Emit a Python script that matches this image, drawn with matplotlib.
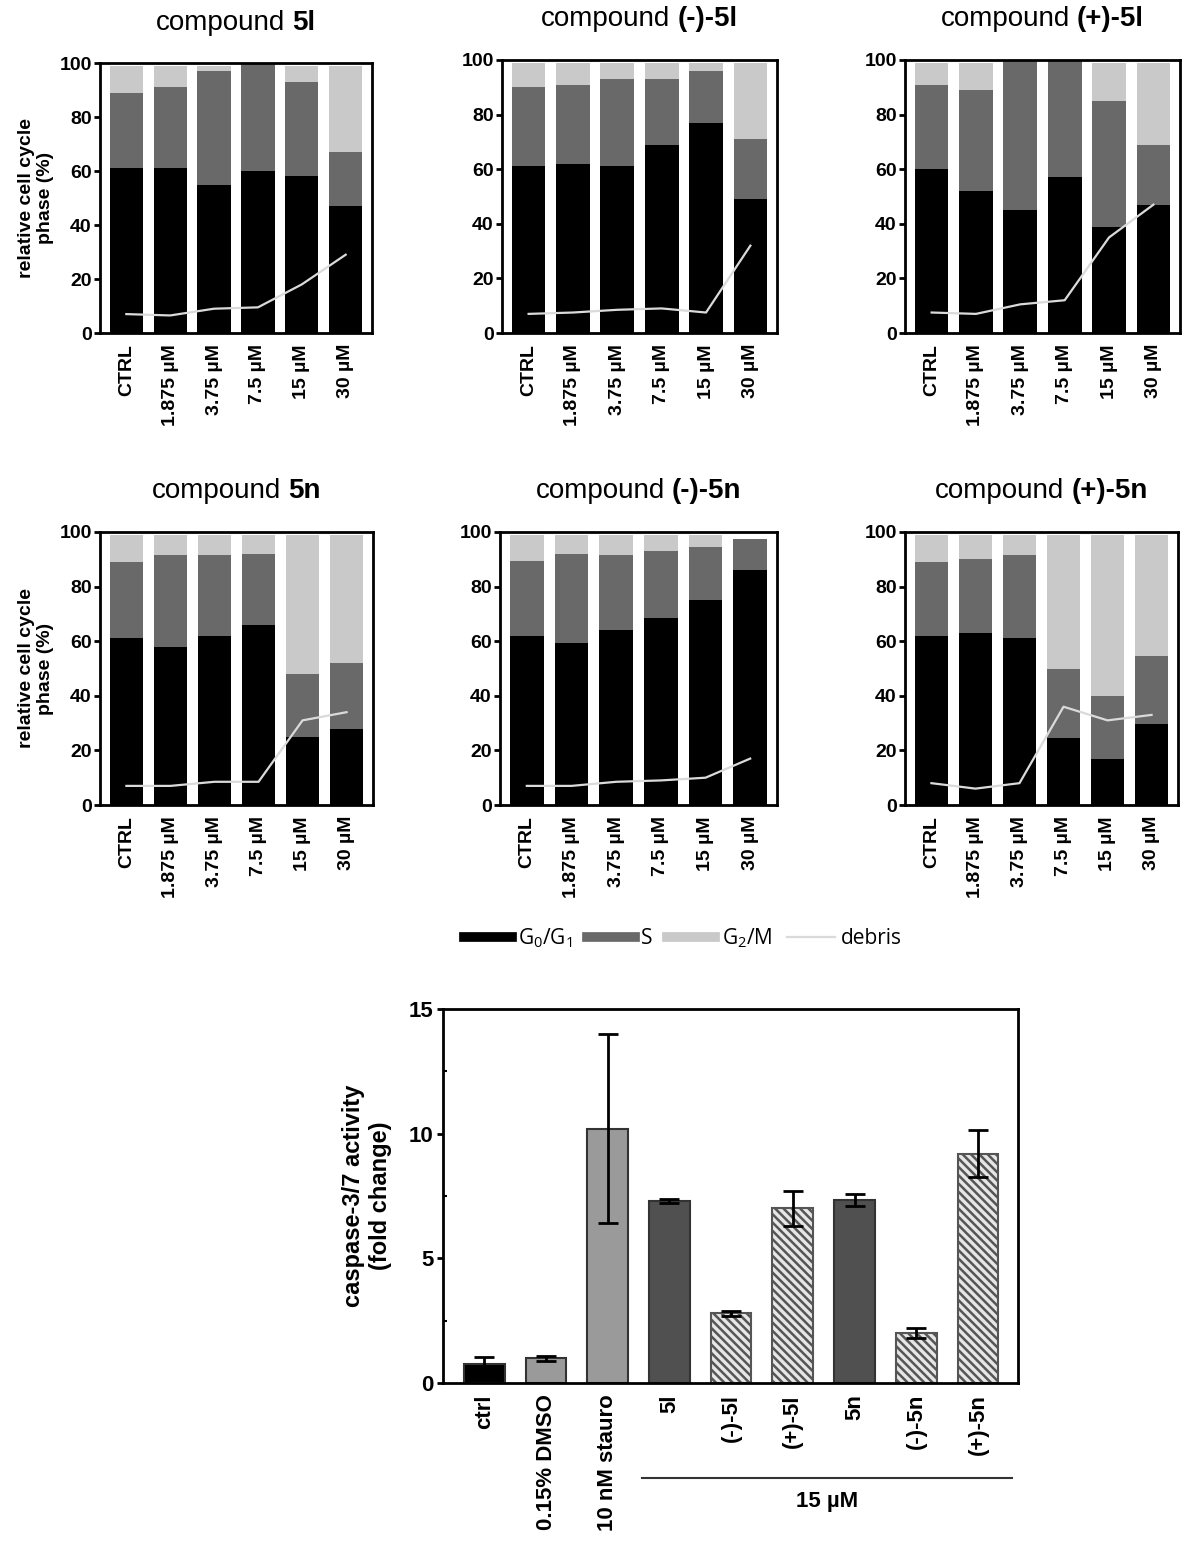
import matplotlib
matplotlib.use('Agg')
import matplotlib.pyplot as plt
import numpy as np
from matplotlib.lines import Line2D
from matplotlib.offsetbox import TextArea, HPacker, AnnotationBbox

plt.rcParams['font.family'] = ['Liberation Sans', 'DejaVu Sans']
plt.rcParams['mathtext.fontset'] = 'custom'
plt.rcParams['mathtext.rm'] = 'Open Sans'
plt.rcParams['hatch.linewidth'] = 1.8

doses = ['CTRL', '1.875 µM', '3.75 µM', '7.5 µM', '15 µM', '30 µM']

# cell cycle phases (%) per compound
g1_5l = [61, 61, 55, 60, 58, 47]
s_5l = [28, 30, 42, 40, 35, 20]
g2m_5l = [10, 8, 2, 0, 6, 32]
deb_5l = [7, 6.5, 9, 9.5, 18, 29]

g1_m5l = [61, 62, 61, 69, 77, 49]
s_m5l = [29, 29, 32, 24, 19, 22]
g2m_m5l = [9, 8, 6, 6, 3, 28]
deb_m5l = [7, 7.5, 8.5, 9, 7.5, 32]

g1_p5l = [60, 52, 45, 57, 39, 47]
s_p5l = [31, 37, 55, 43, 46, 22]
g2m_p5l = [8, 10, 0, 0, 14, 30]
deb_p5l = [7.5, 7, 10.5, 12, 35, 47]

g1_5n = [61, 58, 62, 66, 25, 28]
s_5n = [28, 33.5, 29.5, 26, 23, 24]
g2m_5n = [10, 7.5, 7.5, 7, 51, 47]
deb_5n = [7, 7, 8.5, 8.5, 31, 34]

g1_m5n = [62, 59.5, 64, 68.5, 75, 86]
s_m5n = [27.5, 32.5, 27.5, 24.5, 19.5, 11.5]
g2m_m5n = [9.5, 7, 7.5, 6, 4.5, 0]
deb_m5n = [7, 7, 8.5, 9, 10, 17]

g1_p5n = [62, 63, 61, 24.5, 17, 29.5]
s_p5n = [27, 27, 30.5, 25.5, 23, 25]
g2m_p5n = [10, 9, 7.5, 49, 59, 44.5]
deb_p5n = [8, 6, 8, 36, 31, 33]

panels = [
    ('5l', g1_5l, s_5l, g2m_5l, deb_5l),
    ('(-)-5l', g1_m5l, s_m5l, g2m_m5l, deb_m5l),
    ('(+)-5l', g1_p5l, s_p5l, g2m_p5l, deb_p5l),
    ('5n', g1_5n, s_5n, g2m_5n, deb_5n),
    ('(-)-5n', g1_m5n, s_m5n, g2m_m5n, deb_m5n),
    ('(+)-5n', g1_p5n, s_p5n, g2m_p5n, deb_p5n),
]

# caspase assay
casp_labels = ['ctrl', '0.15% DMSO', '10 nM stauro', '5l', '(-)-5l', '(+)-5l',
               '5n', '(-)-5n', '(+)-5n']
casp_mean = [0.75, 1.0, 10.2, 7.3, 2.8, 7.0, 7.35, 2.0, 9.2]
casp_err = [0.3, 0.1, 3.8, 0.08, 0.1, 0.7, 0.25, 0.2, 0.95]

C_G1, C_S, C_G2, C_DEB = '#000000', '#696969', '#c9c9c9', '#dadada'

W, H = 1186, 1542
fig = plt.figure(figsize=(W / 100, H / 100), dpi=100)

def px_axes(x0, x1, y0, y1):
    return fig.add_axes([x0 / W, 1 - y1 / H, (x1 - x0) / W, (y1 - y0) / H])

def title2(ax, label):
    t1 = TextArea('compound', textprops=dict(fontsize=20))
    t2 = TextArea(label, textprops=dict(fontsize=20, weight='bold'))
    box = HPacker(children=[t1, t2], align='baseline', pad=0, sep=5)
    ab = AnnotationBbox(box, (0.5, 1.15), xycoords='axes fraction',
                        frameon=False, box_alignment=(0.5, 0.5))
    ax.add_artist(ab)

boxes = [(100, 372, 63, 333), (502, 777, 60, 333), (905, 1180, 60, 333),
         (100, 373, 532, 805), (500, 777, 532, 805), (905, 1178, 532, 805)]

x = np.arange(len(doses))
for i, ((name, g1, s, g2, deb), b) in enumerate(zip(panels, boxes)):
    ax = px_axes(*b)
    g1 = np.array(g1); s = np.array(s); g2 = np.array(g2)
    ax.bar(x, g1, 0.76, color=C_G1)
    ax.bar(x, s, 0.76, bottom=g1, color=C_S)
    ax.bar(x, g2, 0.76, bottom=g1 + s, color=C_G2)
    ax.plot(x, deb, color=C_DEB, lw=1.6)
    ax.set_xlim(-0.6, 5.6)
    ax.set_ylim(0, 100)
    ax.set_yticks(range(0, 101, 20))
    ax.set_xticks(x)
    ax.set_xticklabels(doses, rotation=90, fontsize=14, weight='bold')
    for t in ax.get_yticklabels():
        t.set_fontsize(14)
        t.set_weight('bold')
    ax.tick_params(axis='x', length=0, pad=8)
    ax.tick_params(axis='y', length=4, width=2, pad=2)
    for sp in ax.spines.values():
        sp.set_linewidth(2)
    if i % 3 == 0:
        ax.set_ylabel('relative cell cycle\nphase (%)', fontsize=14,
                      weight='bold', linespacing=1.1)
    title2(ax, name)

handles = [Line2D([], [], color=C_G1, lw=7),
           Line2D([], [], color=C_S, lw=7),
           Line2D([], [], color=C_G2, lw=7),
           Line2D([], [], color=C_DEB, lw=1.6)]
fig.legend(handles, ['G$_0$/G$_1$', 'S', 'G$_2$/M', 'debris'],
           loc='center', bbox_to_anchor=(683 / W, 1 - 938 / H), ncol=4,
           frameon=False, handlelength=2.3, handletextpad=0.3,
           columnspacing=0.7, prop={'family': 'Open Sans', 'size': 15})

# caspase panel
ax = px_axes(443, 1018, 1009, 1383)
xc = np.arange(len(casp_labels))
colors = ['#000000', '#9a9a9a', '#9a9a9a', '#505050', '#e6e6e6', '#e6e6e6',
          '#505050', '#e6e6e6', '#e6e6e6']
hatches = [None, None, None, None, '\\\\\\\\', '\\\\\\\\', None,
           '\\\\\\\\', '\\\\\\\\']
for xi, m, c, h in zip(xc, casp_mean, colors, hatches):
    ax.bar(xi, m, 0.66, color=c, edgecolor='#555555' if h else '#333333',
           hatch=h, lw=1.5, zorder=2)
ax.errorbar(xc, casp_mean, yerr=casp_err, fmt='none', ecolor='black',
            elinewidth=2, capsize=7, capthick=2, zorder=3)
ax.set_xlim(-0.67, 8.65)
ax.set_ylim(0, 15)
ax.set_yticks([0, 5, 10, 15])
ax.set_yticks([2.5, 7.5, 12.5], minor=True)
ax.set_xticks(xc)
ax.set_xticklabels(casp_labels, rotation=90, fontsize=16, weight='bold')
for t in ax.get_yticklabels():
    t.set_fontsize(16)
    t.set_weight('bold')
ax.tick_params(axis='x', length=0, pad=8)
ax.tick_params(axis='y', which='major', length=4, width=2, pad=3)
ax.tick_params(axis='y', which='minor', length=3, width=1.5, direction='in')
for sp in ax.spines.values():
    sp.set_linewidth(2)
ax.set_ylabel('caspase-3/7 activity\n(fold change)', fontsize=17,
              weight='bold', linespacing=1.2, labelpad=12)

tr = ax.get_xaxis_transform()
ax.plot([2.55, 8.55], [-0.254, -0.254], color='#333333', lw=1.5,
        transform=tr, clip_on=False)
ax.text(5.55, -0.318, '15 µM', transform=tr, ha='center', va='center',
        fontsize=16, weight='bold')

fig.savefig('out.png', dpi=100)
